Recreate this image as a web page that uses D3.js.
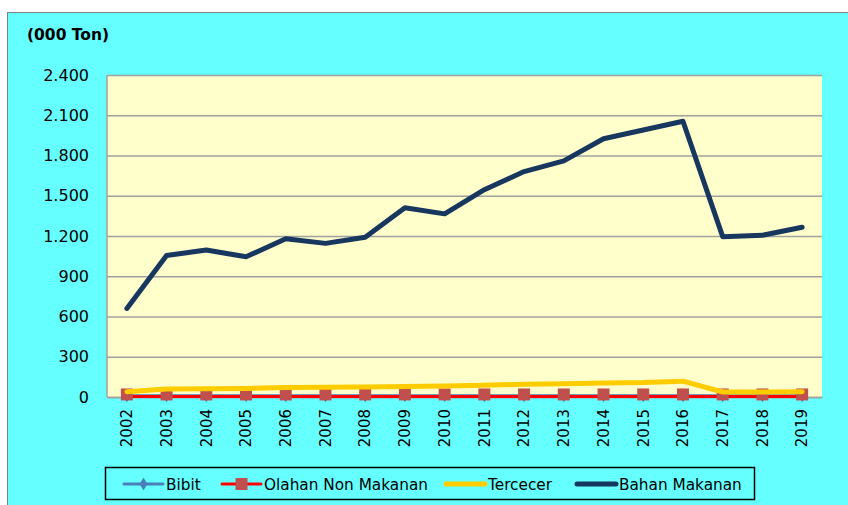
<!DOCTYPE html>
<html>
<head>
<meta charset="utf-8">
<script src="https://cdn.jsdelivr.net/npm/d3@7"></script>
<style>
  body { margin: 0; background: #fff; overflow: hidden; }
  text { font-family: "DejaVu Sans", Verdana, sans-serif; }
</style>
</head>
<body>
<div id="chart-div"></div>
<script>
const years = ['2002','2003','2004','2005','2006','2007','2008','2009','2010','2011','2012','2013','2014','2015','2016','2017','2018','2019'];
const bibit = [10, 10, 10, 10, 10, 10, 10, 10, 10, 10, 10, 10, 10, 10, 10, 10, 10, 10];
const olahanNonMakanan = [4, 4, 4, 4, 4, 4, 4, 4, 4, 4, 4, 4, 4, 4, 4, 4, 4, 4];
const tercecer = [40, 60, 62, 64, 70, 72, 74, 78, 82, 88, 95, 98, 105, 108, 118, 37, 37, 40];
const bahanMakanan = [660, 1055, 1095, 1045, 1180, 1145, 1190, 1410, 1365, 1545, 1680, 1760, 1925, 1990, 2055, 1195, 1205, 1265];
const yTicks = [0, 300, 600, 900, 1200, 1500, 1800, 2100, 2400];

const width = 848, height = 505;
const margin = { top: 75, right: 26, bottom: 108, left: 107 };
const innerWidth = width - margin.left - margin.right;
const innerHeight = height - margin.top - margin.bottom;

const svg = d3.select('#chart-div').append('svg')
  .attr('width', width).attr('height', height)
  .style('display', 'block');

// outer cyan box (runs off the right and bottom edges)
svg.append('rect')
  .attr('x', 7.5).attr('y', 12.5)
  .attr('width', width - 7).attr('height', height - 12)
  .attr('fill', '#66ffff').attr('stroke', '#808080').attr('stroke-width', 1);

svg.append('text')
  .attr('x', 27).attr('y', 40)
  .attr('font-size', 15.5).attr('font-weight', 'bold')
  .text('(000 Ton)');

const g = svg.append('g').attr('transform', `translate(${margin.left},${margin.top})`);

const xScale = d3.scaleBand().domain(years).range([0, innerWidth]);
const xPos = d => xScale(d) + xScale.bandwidth() / 2;
const yScale = d3.scaleLinear().domain([0, 2400]).range([innerHeight, 0]);

g.append('rect')
  .attr('width', innerWidth).attr('height', innerHeight)
  .attr('fill', '#ffffcc');

const yAxis = d3.axisLeft(yScale)
  .tickValues(yTicks)
  .tickSize(-innerWidth)
  .tickPadding(18)
  .tickFormat(d => d3.format(',')(d).replace(/,/g, '.'));

const yAxisG = g.append('g').call(yAxis);
yAxisG.selectAll('.tick line').attr('stroke', '#a0a0a0').attr('stroke-width', 1.5);
yAxisG.selectAll('.tick text').attr('font-size', 16).attr('fill', '#000')
  .attr('font-family', '"DejaVu Sans", sans-serif');
yAxisG.select('.domain').remove();

g.append('line')
  .attr('x1', 0).attr('x2', 0).attr('y1', 0).attr('y2', innerHeight)
  .attr('stroke', '#a0a0a0').attr('stroke-width', 1.5);

const xAxis = d3.axisBottom(xScale).tickSize(0).tickPadding(0);
const xAxisG = g.append('g').attr('transform', `translate(0,${innerHeight})`).call(xAxis);
xAxisG.select('.domain').attr('stroke', '#a0a0a0').attr('stroke-width', 1.5);
xAxisG.selectAll('.tick text')
  .attr('font-size', 15).attr('fill', '#000')
  .attr('font-family', '"DejaVu Sans", sans-serif')
  .attr('transform', 'rotate(-90)')
  .attr('text-anchor', 'end')
  .attr('dy', '0.35em')
  .attr('x', -12).attr('y', 0);

const line = d3.line().x((d, i) => xPos(years[i])).y(d => yScale(d));

// Bibit
g.append('path').datum(bibit)
  .attr('d', line).attr('fill', 'none')
  .attr('stroke', '#4a7ebb').attr('stroke-width', 3);
g.selectAll('.bibit-mark').data(bibit).enter().append('path')
  .attr('class', 'bibit-mark')
  .attr('d', d3.symbol().type(d3.symbolDiamond).size(50))
  .attr('transform', (d, i) => `translate(${xPos(years[i])},${yScale(d)})`)
  .attr('fill', '#4a7ebb');

// Olahan Non Makanan
g.append('path').datum(olahanNonMakanan)
  .attr('d', line).attr('fill', 'none')
  .attr('stroke', '#ff0000').attr('stroke-width', 3);
g.selectAll('.olahan-mark').data(olahanNonMakanan).enter().append('rect')
  .attr('class', 'olahan-mark')
  .attr('x', (d, i) => xPos(years[i]) - 6)
  .attr('y', d => yScale(d) - 6 - 2)
  .attr('width', 12).attr('height', 12)
  .attr('fill', '#c0504d');

// Tercecer
g.append('path').datum(tercecer)
  .attr('d', line).attr('fill', 'none')
  .attr('stroke', '#ffcc00').attr('stroke-width', 5)
  .attr('stroke-linejoin', 'round').attr('stroke-linecap', 'round');

// Bahan Makanan
g.append('path').datum(bahanMakanan)
  .attr('d', line).attr('fill', 'none')
  .attr('stroke', '#17375e').attr('stroke-width', 5)
  .attr('stroke-linejoin', 'round').attr('stroke-linecap', 'round');

// legend
const legend = svg.append('g');
legend.append('rect')
  .attr('x', 105.5).attr('y', 467.5).attr('width', 649).attr('height', 32)
  .attr('fill', '#66ffff').attr('stroke', '#000').attr('stroke-width', 1.5);

const legendItems = [
  { name: 'Bibit', color: '#4a7ebb', x: 124, w: 3, mark: 'diamond' },
  { name: 'Olahan Non Makanan', color: '#ff0000', x: 222, w: 3, mark: 'square' },
  { name: 'Tercecer', color: '#ffcc00', x: 446, w: 5, mark: null },
  { name: 'Bahan Makanan', color: '#17375e', x: 577, w: 5, mark: null }
];
const ly = 484;
legendItems.forEach(it => {
  legend.append('line')
    .attr('x1', it.x).attr('x2', it.x + 39).attr('y1', ly).attr('y2', ly)
    .attr('stroke', it.color).attr('stroke-width', it.w).attr('stroke-linecap', 'round');
  if (it.mark === 'diamond') {
    legend.append('path')
      .attr('d', d3.symbol().type(d3.symbolDiamond).size(50))
      .attr('transform', `translate(${it.x + 19.5},${ly})`)
      .attr('fill', it.color);
  } else if (it.mark === 'square') {
    legend.append('rect')
      .attr('x', it.x + 13.5).attr('y', ly - 6).attr('width', 12).attr('height', 12)
      .attr('fill', '#c0504d');
  }
  legend.append('text')
    .attr('x', it.x + 42).attr('y', ly + 5.5)
    .attr('font-size', 15.3).attr('fill', '#000')
    .text(it.name);
});
</script>
</body>
</html>
